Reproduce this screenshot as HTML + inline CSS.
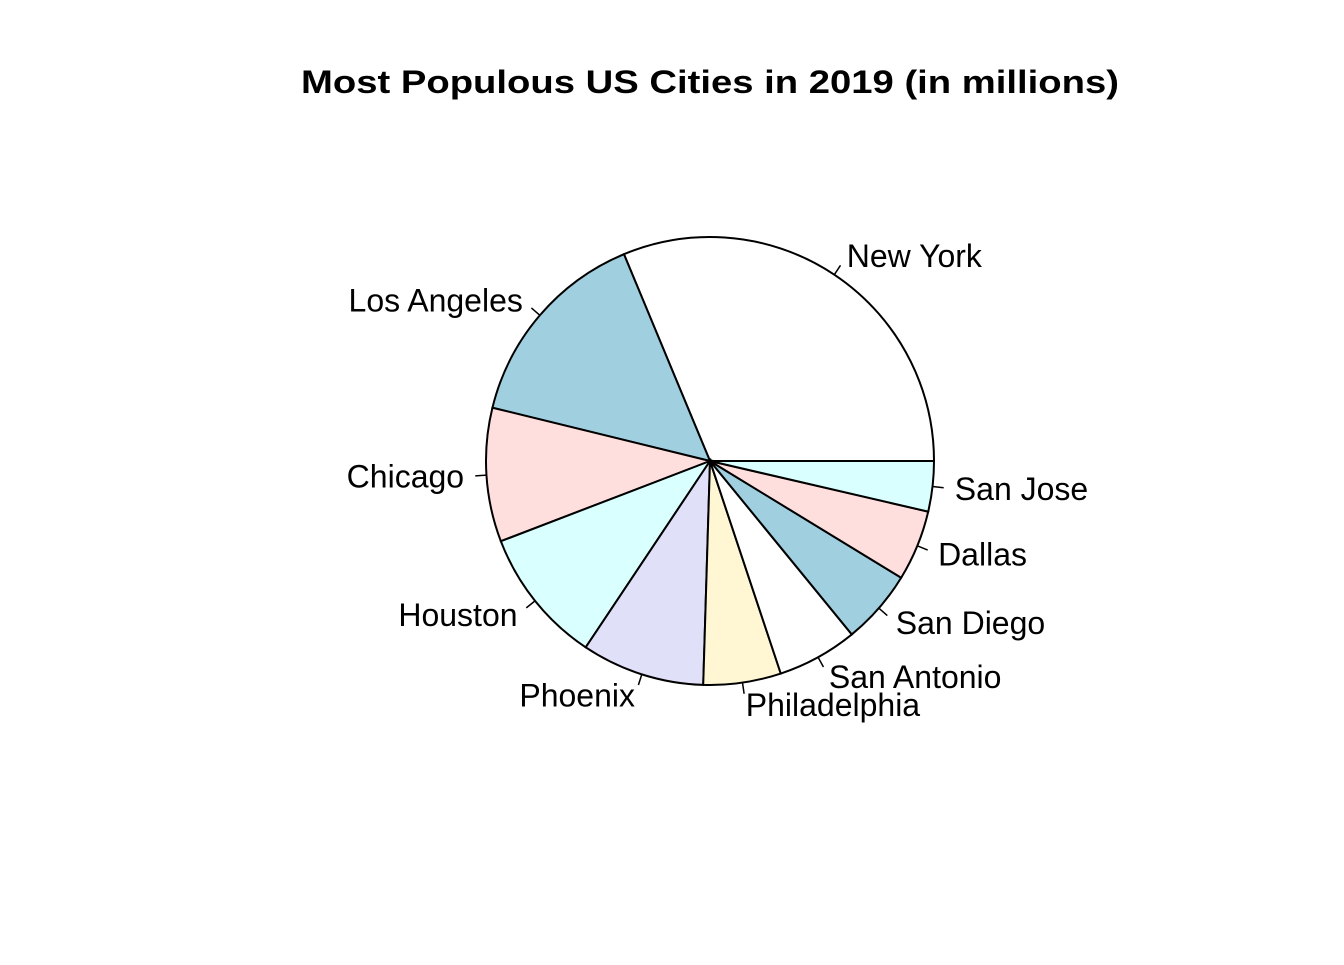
<!DOCTYPE html>
<html><head><meta charset="utf-8"><style>
html,body{margin:0;padding:0;background:#fff}
svg text{font-family:"Liberation Sans",Arial,sans-serif}
</style></head><body>
<svg id="chart" width="1344" height="960" viewBox="0 0 1344 960" xmlns="http://www.w3.org/2000/svg">
<rect width="1344" height="960" fill="#fff"/>
<text x="710" y="93" text-anchor="middle" font-size="32" font-weight="bold" textLength="818" lengthAdjust="spacingAndGlyphs">Most Populous US Cities in 2019 (in millions)</text>
<g id="slices"></g>
</svg>
<script>
const cities = ["New York","Los Angeles","Chicago","Houston","Phoenix","Philadelphia","San Antonio","San Diego","Dallas","San Jose"];
const populations = [8.10,3.86,2.50,2.54,2.30,1.45,1.50,1.39,1.32,0.94];
const sliceColors = ["#FFFFFF","#A0CFE0","#FFDEDE","#DAFFFF","#E0E0F8","#FFF7D4"];
const cx=710, cy=461, R=224;
const g=document.getElementById('slices');
const NS="http://www.w3.org/2000/svg";
const total=populations.reduce((a,b)=>a+b,0);
function pt(a,r){return [cx+r*Math.cos(a), cy-r*Math.sin(a)];}
let cum=0;
populations.forEach((v,i)=>{
  const a0=cum/total*2*Math.PI; cum+=v; const a1=cum/total*2*Math.PI;
  const p0=pt(a0,R), p1=pt(a1,R);
  const large=(a1-a0)>Math.PI?1:0;
  const path=document.createElementNS(NS,'path');
  path.setAttribute('d',`M${cx},${cy} L${p0[0]},${p0[1]} A${R},${R} 0 ${large} 0 ${p1[0]},${p1[1]} Z`);
  path.setAttribute('fill',sliceColors[i%sliceColors.length]);
  path.setAttribute('stroke','#000');
  path.setAttribute('stroke-width','2');
  
  
  g.appendChild(path);
  const am=(a0+a1)/2;
  const t0=pt(am,R), t1=pt(am,R*1.05);
  const ln=document.createElementNS(NS,'line');
  ln.setAttribute('x1',t0[0]);ln.setAttribute('y1',t0[1]);
  ln.setAttribute('x2',t1[0]);ln.setAttribute('y2',t1[1]);
  ln.setAttribute('stroke','#000');ln.setAttribute('stroke-width','1.5');
  
  
  g.appendChild(ln);
  const tp=pt(am,R*1.1);
  const tx=document.createElementNS(NS,'text');
  tx.setAttribute('x',tp[0]);tx.setAttribute('y',tp[1]+11);
  tx.setAttribute('font-size','32');
  tx.setAttribute('text-anchor',Math.cos(am)>0?'start':'end');
  tx.textContent=cities[i];
  
  
  g.appendChild(tx);
});
</script>
</body></html>
